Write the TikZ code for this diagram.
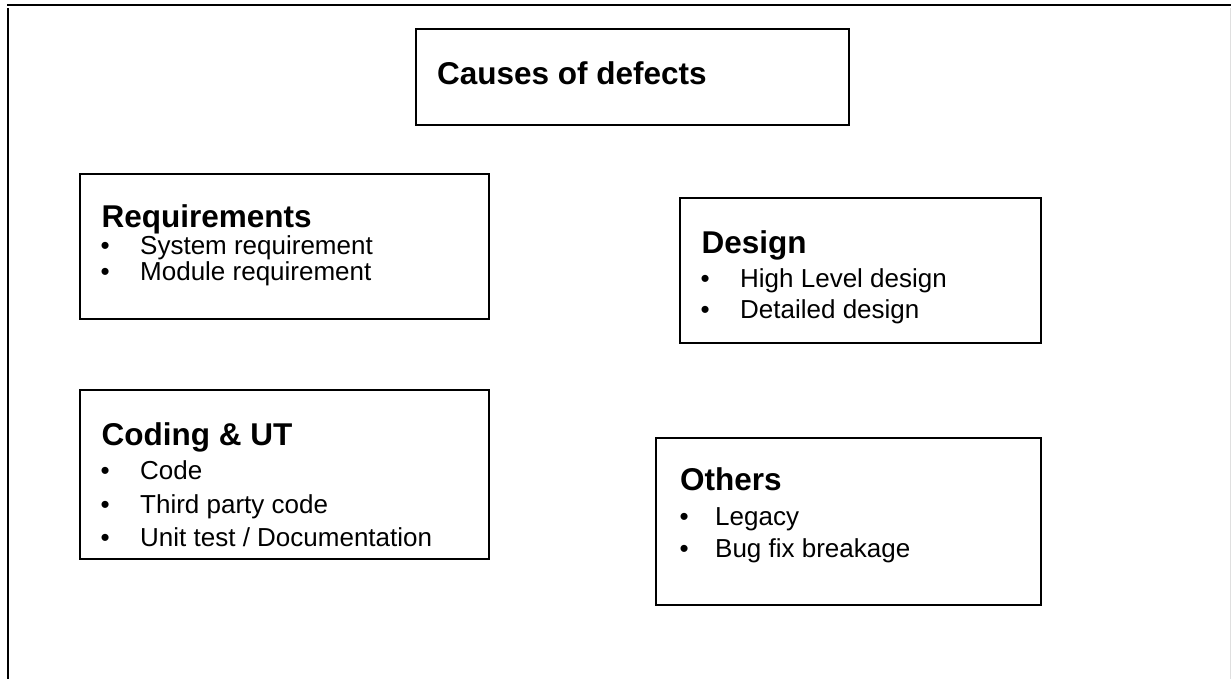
\documentclass[tikz,border=0pt]{standalone}
\usepackage{fontspec}
\setmainfont{Liberation Sans}
\usetikzlibrary{positioning}

% bullet line: dot, then the text after a fixed indent
\newcommand{\bitem}[2][39.5pt]{\makebox[#1][l]{\textbullet}#2}

\begin{document}
\begin{tikzpicture}[x=1pt, y=-1pt,
    frame/.style={draw, line width=1.8pt, inner sep=0pt, anchor=north west},
    head/.style={font=\fontsize{31.5}{36}\selectfont\bfseries, inner sep=0pt, anchor=base west},
    entry/.style={font=\fontsize{26}{30}\selectfont, inner sep=0pt, anchor=base west}]
    \useasboundingbox (0,0) rectangle (1231,679);

    % page edge
    \draw[line width=2pt] (7,5) -- (1231,5);
    \draw[line width=2pt] (7.5,8) -- (7.5,679);
    \draw[gray!25, line width=0.8pt] (1230,8) -- (1230,679);

    % title
    \node[frame, minimum width=433, minimum height=96] (cause) at (415,28) {};
    \node[head] (causetxt) at (437,85) {Causes of defects};

    % requirements
    \node[frame, minimum width=409, minimum height=145] (req) at (79,173) {};
    \node[head] (reqhead) at (101.5,228) {Requirements};
    \node[entry] (req1) at (100.5,254) {\bitem{System requirement}};
    \node[entry] (req2) at (100.5,280) {\bitem{Module requirement}};

    % design
    \node[frame, minimum width=361, minimum height=145] (des) at (679,197) {};
    \node[head] (deshead) at (701.5,253) {Design};
    \node[entry] (des1) at (700.5,287) {\bitem{High Level design}};
    \node[entry] (des2) at (700.5,318) {\bitem{Detailed design}};

    % coding
    \node[frame, minimum width=409, minimum height=169] (code) at (79,389) {};
    \node[head] (codehead) at (101.5,445) {Coding \& UT};
    \node[entry] (code1) at (100.5,479) {\bitem{Code}};
    \node[entry] (code2) at (100.5,513) {\bitem{Third party code}};
    \node[entry] (code3) at (100.5,546) {\bitem{Unit test / Documentation}};

    % others
    \node[frame, minimum width=385, minimum height=167] (oth) at (655,437) {};
    \node[head] (othhead) at (680,490) {Others};
    \node[entry] (oth1) at (679.5,525) {\bitem[35.5pt]{Legacy}};
    \node[entry] (oth2) at (679.5,557) {\bitem[35.5pt]{Bug fix breakage}};
\end{tikzpicture}
\end{document}
